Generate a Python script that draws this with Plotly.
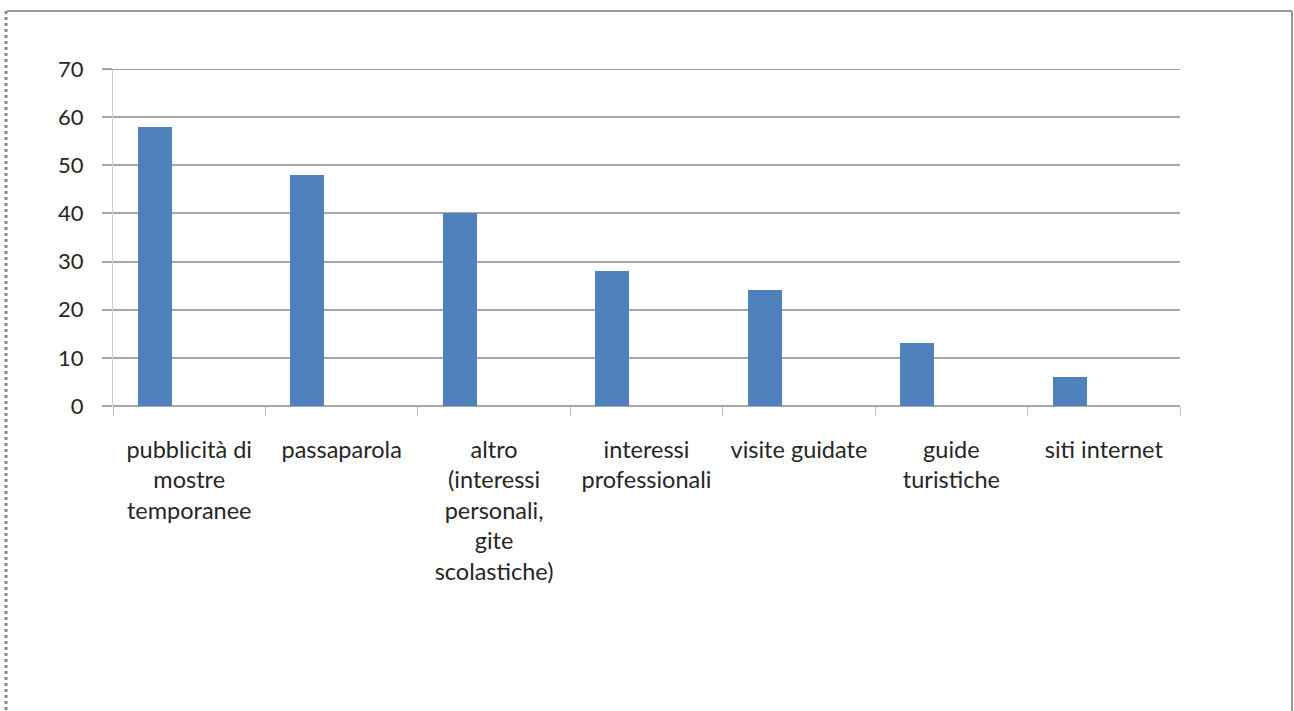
import plotly.graph_objects as go

# Survey: how visitors heard about the museum
categories = [
    "pubblicità di<br>mostre<br>temporanee",
    "passaparola",
    "altro<br>(interessi<br>personali,<br>gite<br>scolastiche)",
    "interessi<br>professionali",
    "visite guidate",
    "guide<br>turistiche",
    "siti internet",
]
values = [58, 48, 40, 28, 24, 13, 6]
y_ticks = [0, 10, 20, 30, 40, 50, 60, 70]

W, H = 1294, 711
L, R, T, B = 113, 114, 69, 305
plot_w = W - L - R
plot_h = H - T - B

BAR_BLUE = "#4f81bd"
GRID = "#a8a8a8"
TEXT = "#262626"
FONT = "Lato, 'Open Sans', sans-serif"

fig = go.Figure()
fig.add_trace(go.Bar(
    x=categories,
    y=values,
    marker=dict(color=BAR_BLUE, line=dict(width=0)),
    width=0.223,
    offset=-0.336,
    showlegend=False,
    hoverinfo="x+y",
))


def px_to_paper_x(px):
    return (px - L) / plot_w


def px_to_paper_y(py):
    return (H - B - py) / plot_h


shapes = [
    # top gridline sits on the range edge, so draw it explicitly
    dict(type="line", xref="paper", yref="y",
         x0=px_to_paper_x(103), x1=1, y0=y_ticks[-1], y1=y_ticks[-1],
         line=dict(color="#9c9c9c", width=2)),
    # outer frame around the chart area (dotted on the left edge)
    dict(type="line", xref="paper", yref="paper",
         x0=px_to_paper_x(7), x1=px_to_paper_x(1292),
         y0=px_to_paper_y(11), y1=px_to_paper_y(11),
         line=dict(color="#9a9a9a", width=2)),
    dict(type="line", xref="paper", yref="paper",
         x0=px_to_paper_x(1292), x1=px_to_paper_x(1292),
         y0=px_to_paper_y(11), y1=px_to_paper_y(730),
         line=dict(color="#9a9a9a", width=2)),
    dict(type="line", xref="paper", yref="paper",
         x0=px_to_paper_x(6), x1=px_to_paper_x(6),
         y0=px_to_paper_y(11), y1=px_to_paper_y(730),
         line=dict(color="#8a8a8a", width=3, dash="dot")),
]

fig.update_layout(
    width=W, height=H,
    margin=dict(l=L, r=R, t=T, b=B, autoexpand=False),
    paper_bgcolor="white",
    plot_bgcolor="white",
    font=dict(family=FONT, size=22, color=TEXT),
    bargap=0,
    shapes=shapes,
    xaxis=dict(
        type="category",
        tickson="boundaries",
        ticks="outside",
        ticklen=9,
        tickcolor="#c0c0c0",
        tickwidth=1,
        showgrid=False,
        showline=False,
        zeroline=False,
        tickfont=dict(family=FONT, size=23.5, color=TEXT),
        ticklabelstandoff=27,
        fixedrange=True,
    ),
    yaxis=dict(
        range=[0, 70],
        tickvals=y_ticks,
        ticks="outside",
        ticklen=10,
        tickcolor=GRID,
        tickwidth=1.5,
        showgrid=True,
        gridcolor=GRID,
        gridwidth=1.5,
        zeroline=True,
        zerolinecolor=GRID,
        zerolinewidth=1.5,
        showline=True,
        linecolor="#cfcfcf",
        linewidth=1,
        tickfont=dict(family=FONT, size=22, color=TEXT),
        ticklabelstandoff=14,
        fixedrange=True,
    ),
)

fig.write_html("out.html")
